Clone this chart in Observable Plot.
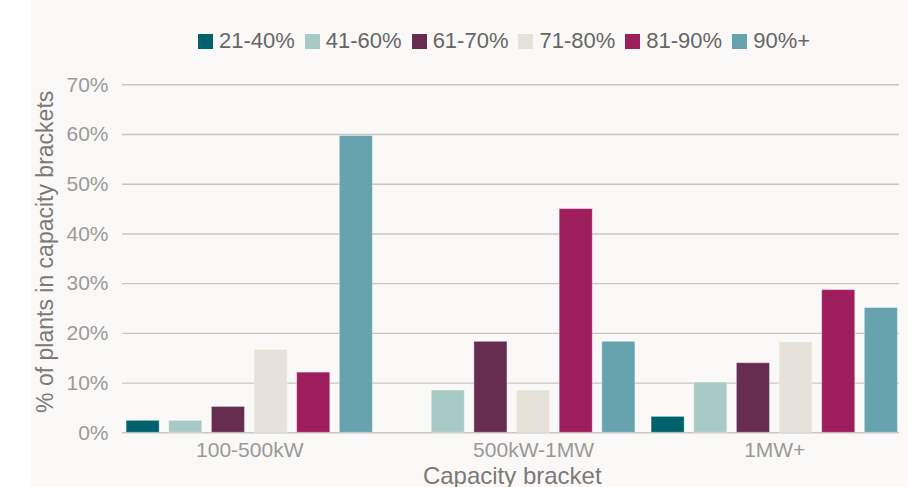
<!DOCTYPE html>
<html>
<head>
<meta charset="utf-8">
<script src="https://cdn.jsdelivr.net/npm/d3@7"></script>
<script src="https://cdn.jsdelivr.net/npm/@observablehq/plot@0.6"></script>
<style>
  html, body {
    margin: 0;
    padding: 0;
    width: 908px;
    height: 487px;
    overflow: hidden;
    background: linear-gradient(to right, #ffffff 31px, #faf9f7 31px);
    font-family: "Liberation Sans", Arial, sans-serif;
  }
  #legend {
    height: 60px;
    box-sizing: border-box;
    padding-top: 22px;
    padding-left: 110px;
    display: flex;
    align-items: center;
    justify-content: center;
  }
  .lg-swatches, .lg-swatches-wrap {
    font-family: "Liberation Sans", Arial, sans-serif !important;
    font-size: 22px !important;
    color: #666 !important;
    margin: 0 !important;
    min-height: 0 !important;
    justify-content: center;
  }
  .lg-swatch { margin-right: 10px !important; }
  .lg-swatch > svg { margin-right: 6px !important; }
  #chart svg { display: block; overflow: visible; }
</style>
</head>
<body>
<div id="legend"></div>
<div id="chart"></div>
<script>
// Capacity brackets (groups along the x axis)
const brackets = ["100-500kW", "500kW-1MW", "1MW+"];

// Capacity-factor bands (one bar per band within each bracket)
const categories = ["21-40%", "41-60%", "61-70%", "71-80%", "81-90%", "90%+"];
const colors = ["#00626d", "#a8cac7", "#662d51", "#e6e2d9", "#9e1d5c", "#66a3ae"];

// % of plants in each capacity bracket, per band (null = no plants)
const share21to40 = [2.4, null, 3.2];
const share41to60 = [2.4, 8.5, 10.1];
const share61to70 = [5.2, 18.3, 14.0];
const share71to80 = [16.7, 8.5, 18.2];
const share81to90 = [12.1, 45.0, 28.7];
const share90plus = [59.7, 18.3, 25.1];

// y-axis ticks
const yTicks = [0, 10, 20, 30, 40, 50, 60, 70];

const series = [share21to40, share41to60, share61to70, share71to80, share81to90, share90plus];

const rows = categories
  .flatMap((category, i) => brackets.map((bracket, j) => ({bracket, category, value: series[i][j]})))
  .filter(d => d.value != null);

// Each bracket label sits under the middle of the bars that are present
const labelRows = brackets.map(bracket => {
  const present = rows.filter(r => r.bracket === bracket).map(r => r.category);
  const odd = present.length % 2 === 1;
  return {bracket, odd, mid: present[(present.length - 1) >> 1]};
});

const font = "'Liberation Sans', Arial, sans-serif";

const legend = Plot.legend({
  color: {domain: categories, range: colors},
  swatchSize: 15,
  className: "lg"
});
document.getElementById("legend").append(legend);

const width = 908;
const marginLeft = 122;
const marginRight = 9;
// facet bands start slightly left of the gridlines
const fxRange = [118, 905.5];

const chart = Plot.plot({
  width,
  height: 427,
  marginTop: 24.3,
  marginBottom: 54.7,
  marginLeft,
  marginRight,
  style: {fontFamily: font, background: "transparent", overflow: "visible"},
  fx: {domain: brackets, range: fxRange, padding: 0, round: false, axis: null},
  x: {domain: categories, paddingInner: 0.225, paddingOuter: 0.19, round: false, axis: null},
  y: {domain: [0, 70], axis: null},
  color: {domain: categories, range: colors},
  marks: [
    // gridlines: y ticks stretched across the full frame width
    Plot.axisY({
      ticks: yTicks, text: null, label: null,
      tickSize: -(width - marginRight - marginLeft),
      dx: marginLeft - fxRange[0],
      stroke: "#c6c6c6", strokeWidth: 1.4, strokeOpacity: 1
    }),
    // y tick labels
    Plot.axisY({
      ticks: yTicks, tickSize: 0, tickPadding: 10, label: null,
      tickFormat: d => `${d}%`, fontSize: 21, color: "#9a9a9a"
    }),
    // y axis title
    Plot.text(["% of plants in capacity brackets"], {
      facet: "super", text: d => d, frameAnchor: "left", textAnchor: "middle",
      rotate: -90, dx: -73, dy: -7, fontSize: 23, fill: "#7a7a7a"
    }),
    // grouped bars
    Plot.barY(rows, {
      fx: "bracket", x: "category", y: "value", fill: "category",
      stroke: "#ffffff", strokeOpacity: 0.35, strokeWidth: 1
    }),
    // bracket labels
    Plot.text(labelRows.filter(d => d.odd), {
      fx: "bracket", x: "mid", text: "bracket",
      frameAnchor: "bottom", lineAnchor: "top", dy: 9,
      fontSize: 21, fill: "#999999"
    }),
    Plot.text(labelRows.filter(d => !d.odd), {
      fx: "bracket", text: "bracket",
      frameAnchor: "bottom", lineAnchor: "top", dy: 9,
      fontSize: 21, fill: "#999999"
    }),
    // x axis title
    Plot.text(["Capacity bracket"], {
      facet: "super", text: d => d, frameAnchor: "bottom", lineAnchor: "top",
      dy: 34, fontSize: 24, fill: "#7a7a7a"
    })
  ]
});
document.getElementById("chart").append(chart);
</script>
</body>
</html>
